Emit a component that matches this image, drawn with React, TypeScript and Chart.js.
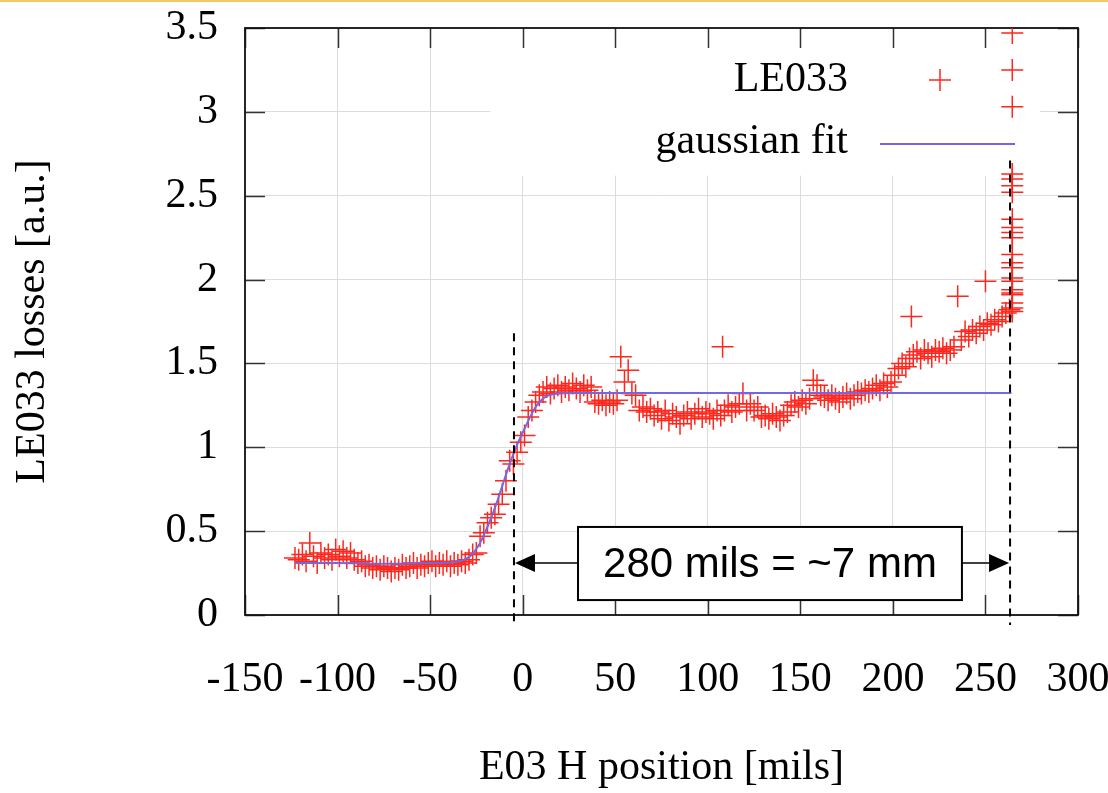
import React, { useEffect, useRef } from 'react';
import { Chart, registerables } from 'chart.js';

Chart.register(...registerables);

// ---- data ----
const positions = [
  -123, -121, -119, -117, -115, -113, -111, -109, -107, -105, -103, -101, -99, -97, -95, -93, -91, -89, -87, -85,
  -83, -81, -79, -77, -75, -73, -71, -69, -67, -65, -63, -61, -59, -57, -55, -53, -51, -49, -47, -45,
  -43, -41, -39, -37, -35, -33, -31, -29, -27, -25, -23, -21, -19, -17, -15, -13, -11, -9, -7, -5,
  -3, -1, 1, 3, 5, 7, 9, 11, 13, 15, 17, 19, 21, 23, 25, 27, 29, 31, 33, 35,
  37, 39, 41, 43, 45, 47, 49, 51, 53, 55, 57, 59, 61, 63, 65, 67, 69, 71, 73, 75,
  77, 79, 81, 83, 85, 87, 89, 91, 93, 95, 97, 99, 101, 103, 105, 107, 108, 109, 111, 113,
  115, 117, 119, 121, 123, 125, 127, 129, 131, 133, 135, 137, 139, 141, 143, 145, 147, 149, 151, 153,
  155, 157, 159, 161, 163, 165, 167, 169, 171, 173, 175, 177, 179, 181, 183, 185, 187, 189, 191, 193,
  195, 197, 199, 201, 203, 205, 207, 209, 210, 211, 213, 215, 217, 219, 221, 223, 225, 227, 229, 231,
  233, 235, 237, 239, 241, 243, 245, 247, 249, 250, 251, 253, 255, 257, 259, 261, 263,
  264.5, 264.5, 264.5, 264.5, 264.5, 264.5, 264.5, 264.5, 264.5, 264.5, 264.5,
  264.5, 264.5, 264.5, 264.5, 264.5, 264.5, 264.5, 264.5, 264.5, 264.5, 264.5,
];
const losses = [
  0.34, 0.33, 0.36, 0.32, 0.43, 0.35, 0.31, 0.37, 0.34, 0.36, 0.33, 0.39, 0.35, 0.38, 0.34, 0.37, 0.33, 0.31, 0.32, 0.29,
  0.30, 0.28, 0.29, 0.27, 0.29, 0.28, 0.26, 0.28, 0.27, 0.30, 0.28, 0.29, 0.31, 0.28, 0.30, 0.29, 0.31, 0.32, 0.29, 0.31,
  0.30, 0.32, 0.29, 0.31, 0.30, 0.32, 0.31, 0.33, 0.36, 0.37, 0.47, 0.49, 0.55, 0.58, 0.60, 0.66, 0.72, 0.80, 0.92, 0.90,
  0.97, 1.03, 1.07, 1.18, 1.22, 1.27, 1.31, 1.33, 1.36, 1.32, 1.35, 1.37, 1.33, 1.36, 1.34, 1.38, 1.35, 1.33, 1.37, 1.34,
  1.36, 1.27, 1.26, 1.28, 1.25, 1.27, 1.26, 1.28, 1.54, 1.39, 1.46, 1.32, 1.31, 1.22, 1.24, 1.21, 1.23, 1.19, 1.21, 1.17,
  1.22, 1.16, 1.20, 1.18, 1.14, 1.19, 1.21, 1.17, 1.20, 1.23, 1.18, 1.21, 1.20, 1.17, 1.22, 1.19, 1.60, 1.22, 1.25, 1.21,
  1.24, 1.26, 1.32, 1.22, 1.26, 1.22, 1.24, 1.18, 1.19, 1.17, 1.20, 1.18, 1.16, 1.19, 1.21, 1.25, 1.27, 1.24, 1.28, 1.26,
  1.29, 1.40, 1.37, 1.31, 1.30, 1.28, 1.31, 1.29, 1.27, 1.30, 1.32, 1.29, 1.31, 1.33, 1.32, 1.34, 1.33, 1.35, 1.37, 1.34,
  1.38, 1.36, 1.39, 1.43, 1.47, 1.50, 1.48, 1.53, 1.78, 1.55, 1.57, 1.53, 1.58, 1.56, 1.54, 1.58, 1.57, 1.59, 1.56, 1.58,
  1.60, 1.90, 1.64, 1.69, 1.66, 1.70, 1.68, 1.72, 1.70, 1.99, 1.74, 1.73, 1.76, 1.75, 1.78, 1.80, 1.82,
  1.81, 1.83, 1.86, 1.91, 1.92, 1.94, 1.99, 2.01, 2.07, 2.10, 2.15,
  2.25, 2.28, 2.31, 2.36, 2.52, 2.56, 2.60, 2.63, 3.03, 3.25, 3.47,
];

const fitPositions = [-123, -100, -75, -50, -38, -33, -29, -26, -23, -20, -17, -14, -11, -8, -5, -2, 1, 4, 7, 10, 13, 17, 22, 30, 60, 264];
const fitLosses = [0.31, 0.31, 0.305, 0.31, 0.315, 0.325, 0.345, 0.38, 0.43, 0.5, 0.58, 0.67, 0.77, 0.87, 0.96, 1.04, 1.11, 1.18, 1.24, 1.28, 1.305, 1.317, 1.322, 1.323, 1.323, 1.323];

const xTickValues = [-150, -100, -50, 0, 50, 100, 150, 200, 250, 300];
const yTickValues = [0, 0.5, 1, 1.5, 2, 2.5, 3, 3.5];

const seriesLabel = 'LE033';
const fitLabel = 'gaussian fit';
const xTitle = 'E03 H position [mils]';
const yTitle = 'LE033 losses [a.u.]';
const annotationText = '280 mils = ~7 mm';

// markers (data coordinates)
const dashLeftX = -4.7;
const dashRightX = 263.3;
const dashLeftTop = 1.68;
const dashRightTop = 2.71;
const dashBottom = -0.06;
const boxX = [29.9, 237.3];
const boxY = [0.089, 0.525];
const arrowY = 0.31;
const keyX = [-17.5, 279.5];
const keyY = [2.62, 3.5];

const SERIF = '"Liberation Serif", "Times New Roman", serif';
const SANS = '"Liberation Sans", Arial, sans-serif';
const RED = 'rgb(255, 38, 28)';
const BLUE = '#7268e4';

const decor = {
  id: 'decor',
  beforeDatasetsDraw(chart: any) {
    const { ctx, chartArea: a, scales } = chart;
    const x = scales.x, y = scales.y;
    ctx.save();
    // key background (opaque)
    const kx0 = x.getPixelForValue(keyX[0]);
    const kx1 = x.getPixelForValue(keyX[1]);
    const ky0 = y.getPixelForValue(keyY[1]);
    const ky1 = y.getPixelForValue(keyY[0]);
    ctx.fillStyle = '#fff';
    ctx.fillRect(kx0, ky0, kx1 - kx0, ky1 - ky0);
    // inward ticks
    ctx.strokeStyle = '#333';
    ctx.lineWidth = 1.5;
    const tl = 20;
    ctx.beginPath();
    xTickValues.forEach((v) => {
      const px = Math.round(x.getPixelForValue(v)) + 0.5;
      ctx.moveTo(px, a.bottom); ctx.lineTo(px, a.bottom - tl);
      ctx.moveTo(px, a.top); ctx.lineTo(px, a.top + tl);
    });
    yTickValues.forEach((v) => {
      const py = Math.round(y.getPixelForValue(v)) + 0.5;
      ctx.moveTo(a.left, py); ctx.lineTo(a.left + tl, py);
      ctx.moveTo(a.right, py); ctx.lineTo(a.right - tl, py);
    });
    ctx.stroke();
    // frame
    ctx.strokeStyle = '#111';
    ctx.lineWidth = 1.8;
    ctx.strokeRect(a.left, a.top, a.right - a.left, a.bottom - a.top);
    ctx.restore();
  },
  afterDatasetsDraw(chart: any) {
    const { ctx, scales } = chart;
    const x = scales.x, y = scales.y;
    ctx.save();
    // dashed guide lines
    ctx.strokeStyle = '#000';
    ctx.lineWidth = 2;
    ctx.setLineDash([8, 6]);
    ctx.beginPath();
    const lx = x.getPixelForValue(dashLeftX);
    const rx = x.getPixelForValue(dashRightX);
    ctx.moveTo(lx, y.getPixelForValue(dashLeftTop)); ctx.lineTo(lx, y.getPixelForValue(dashBottom));
    ctx.moveTo(rx, y.getPixelForValue(dashRightTop)); ctx.lineTo(rx, y.getPixelForValue(dashBottom));
    ctx.stroke();
    ctx.setLineDash([]);
    // annotation box
    const bx0 = x.getPixelForValue(boxX[0]);
    const bx1 = x.getPixelForValue(boxX[1]);
    const by0 = y.getPixelForValue(boxY[1]);
    const by1 = y.getPixelForValue(boxY[0]);
    ctx.fillStyle = '#fff';
    ctx.fillRect(bx0, by0, bx1 - bx0, by1 - by0);
    ctx.strokeStyle = '#000';
    ctx.lineWidth = 2;
    ctx.strokeRect(bx0, by0, bx1 - bx0, by1 - by0);
    ctx.fillStyle = '#000';
    ctx.font = `42px ${SANS}`;
    ctx.textAlign = 'center';
    ctx.textBaseline = 'middle';
    ctx.fillText(annotationText, (bx0 + bx1) / 2, (by0 + by1) / 2 + 2);
    // arrows
    const ay = y.getPixelForValue(arrowY);
    ctx.lineWidth = 1.5;
    ctx.beginPath();
    ctx.moveTo(lx + 18, ay); ctx.lineTo(bx0, ay);
    ctx.moveTo(bx1, ay); ctx.lineTo(rx - 18, ay);
    ctx.stroke();
    ctx.beginPath();
    ctx.moveTo(lx + 1, ay); ctx.lineTo(lx + 21, ay - 9); ctx.lineTo(lx + 21, ay + 9); ctx.closePath();
    ctx.moveTo(rx - 1, ay); ctx.lineTo(rx - 21, ay - 9); ctx.lineTo(rx - 21, ay + 9); ctx.closePath();
    ctx.fill();
    // legend
    ctx.font = `42px ${SERIF}`;
    ctx.textAlign = 'right';
    ctx.fillStyle = '#000';
    ctx.fillText(seriesLabel, 848, 80);
    ctx.fillText(fitLabel, 848, 142);
    ctx.strokeStyle = RED;
    ctx.lineWidth = 1.5;
    ctx.beginPath();
    ctx.moveTo(929, 80); ctx.lineTo(951, 80);
    ctx.moveTo(940, 69); ctx.lineTo(940, 91);
    ctx.stroke();
    ctx.strokeStyle = BLUE;
    ctx.lineWidth = 2;
    ctx.beginPath();
    ctx.moveTo(880, 144); ctx.lineTo(1015, 144);
    ctx.stroke();
    ctx.restore();
  },
};

export default function App() {
  const ref = useRef<HTMLCanvasElement | null>(null);
  useEffect(() => {
    document.body.style.margin = '0';
    const canvas = ref.current;
    if (!canvas) return;
    const font = { family: SERIF, size: 42 };
    const chart = new Chart(canvas, {
      type: 'scatter',
      data: {
        datasets: [
          {
            label: fitLabel,
            data: fitPositions.map((v, i) => ({ x: v, y: fitLosses[i] })),
            showLine: true,
            borderColor: BLUE,
            borderWidth: 2,
            pointRadius: 0,
            cubicInterpolationMode: 'monotone',
            fill: false,
          },
          {
            label: seriesLabel,
            data: positions.map((v, i) => ({ x: v, y: losses[i] })),
            showLine: false,
            pointStyle: 'cross',
            pointRadius: 11,
            pointBorderWidth: 1.5,
            borderColor: RED,
            backgroundColor: RED,
          },
        ],
      },
      options: {
        animation: false,
        responsive: false,
        events: [],
        layout: { padding: { top: 28, right: 30, left: 0, bottom: 0 } },
        plugins: { legend: { display: false }, tooltip: { enabled: false } },
        scales: {
          x: {
            type: 'linear',
            min: -150,
            max: 300,
            afterBuildTicks: (s: any) => { s.ticks = xTickValues.map((v) => ({ value: v })); },
            afterFit: (s: any) => { s.height = 178; s.paddingLeft = 0; s.paddingRight = 0; },
            ticks: { font, color: '#000', padding: 40, maxRotation: 0, autoSkip: false, callback: (v: any) => String(v) },
            grid: { color: '#dcdcdc', lineWidth: 1, drawTicks: false },
            border: { display: false },
            title: { display: true, text: xTitle, font, color: '#000', padding: { top: 0, bottom: 0 } },
          },
          y: {
            type: 'linear',
            min: 0,
            max: 3.5,
            afterBuildTicks: (s: any) => { s.ticks = yTickValues.map((v) => ({ value: v })); },
            afterFit: (s: any) => { s.width = 245; s.paddingTop = 0; s.paddingBottom = 0; },
            ticks: { font, color: '#000', padding: 27, callback: (v: any) => String(v) },
            grid: { color: '#dcdcdc', lineWidth: 1, drawTicks: false },
            border: { display: false },
            title: { display: true, text: yTitle, font, color: '#000', padding: { top: 8, bottom: 0 } },
          },
        },
      },
      plugins: [decor],
    } as any);
    return () => chart.destroy();
  }, []);
  return (
    <div style={{ position: 'relative', width: 1108, height: 793, background: '#fff', overflow: 'hidden' }}>
      <canvas ref={ref} width={1108} height={793} style={{ display: 'block' }} />
      <div style={{ position: 'absolute', left: 0, top: 0, width: 1108, height: 2, background: '#f3c869' }} />
    </div>
  );
}
